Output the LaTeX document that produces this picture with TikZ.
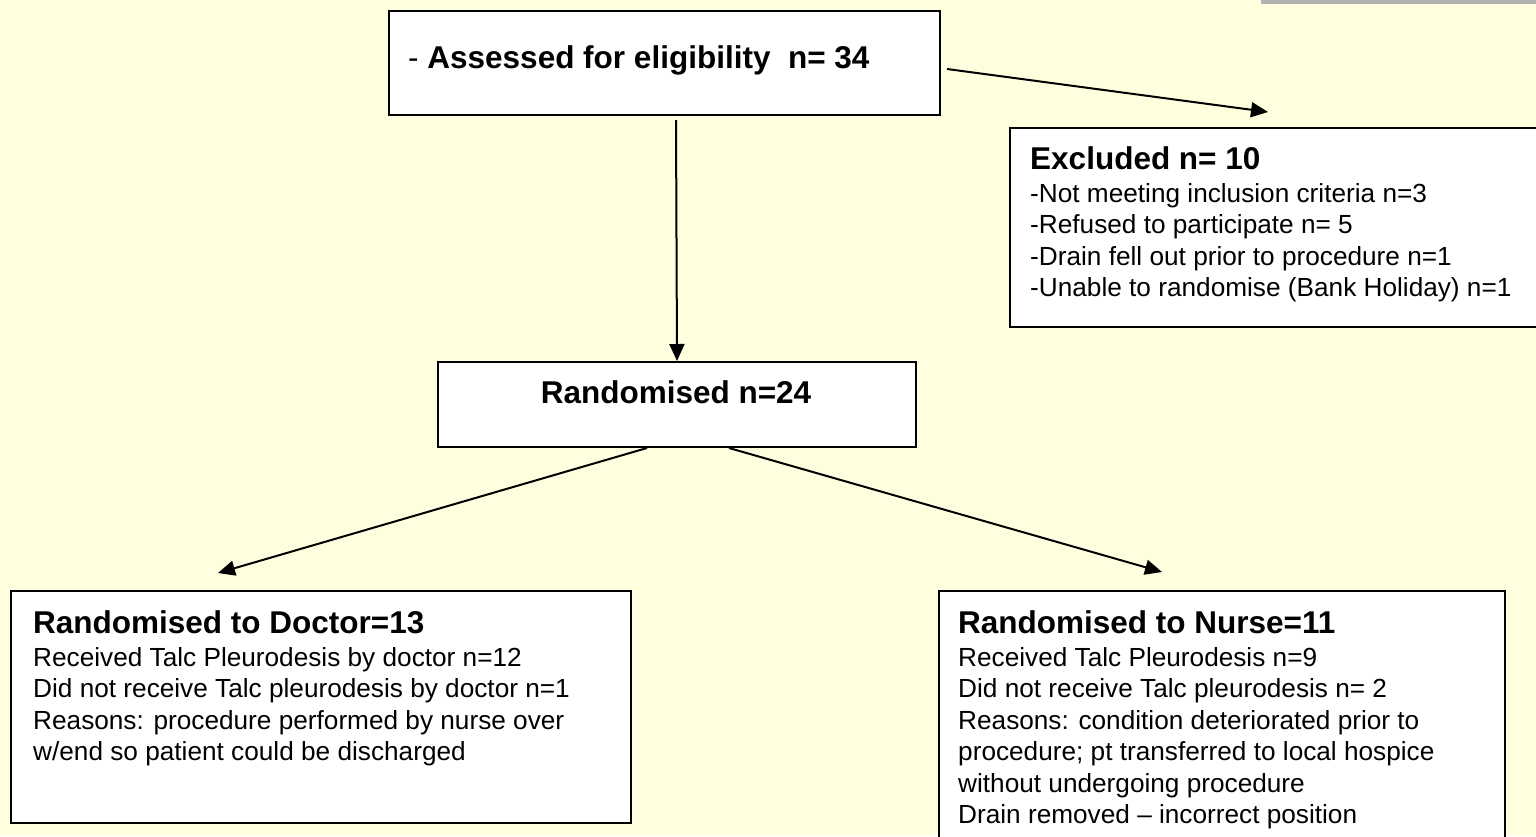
\documentclass[tikz,border=0pt]{standalone}
\usepackage{fontspec}
\setmainfont{Liberation Sans}
\usetikzlibrary{arrows.meta,calc}
\definecolor{bgyellow}{HTML}{FFFFE0}
\definecolor{bargray}{HTML}{B2B2B2}
\begin{document}
\begin{tikzpicture}[x=1pt,y=-1pt,
  boxnode/.style={draw=black, line width=2pt, fill=white, inner sep=0pt, anchor=north west},
  conn/.style={line width=2pt, -{Triangle[length=17pt,width=15pt]}},
  ttl/.style={font=\fontsize{31.5}{36}\selectfont\bfseries, anchor=base west, inner sep=0pt},
  bdy/.style={font=\fontsize{26.2}{31.5}\selectfont, anchor=base west, inner sep=0pt}]
\fill[bgyellow] (0,0) rectangle (1536,836);
\useasboundingbox (0,0) rectangle (1536,836);
\fill[bargray] (1261,0) rectangle (1536,4);
% boxes
\node[boxnode, minimum width=551pt, minimum height=104pt] (top) at (388,10) {};
\node[boxnode, minimum width=600pt, minimum height=199pt] (excl) at (1009,127) {};
\node[boxnode, minimum width=478pt, minimum height=85pt] (rand) at (437,361) {};
\node[boxnode, minimum width=620pt, minimum height=232pt] (doc) at (10,590) {};
\node[boxnode, minimum width=566pt, minimum height=320pt] (nur) at (938,590) {};
% texts
\node[ttl] (toptxt) at (408,68) {{\mdseries -} Assessed for eligibility\ \ n= 34};
\node[ttl, anchor=base] (randtxt) at (676,403) {Randomised n=24};
\node[ttl] (excltxt) at (1030,169) {Excluded n= 10};
\foreach \t [count=\i] in {-Not meeting inclusion criteria n=3,
  -Refused to participate n= 5,
  -Drain fell out prior to procedure n=1,
  -Unable to randomise (Bank Holiday) n=1}
  \node[bdy] (ex\i) at (1030,{202+31.5*(\i-1)}) {\t};
\node[ttl] (doctxt) at (33,633) {Randomised to Doctor=13};
\foreach \t [count=\i] in {Received Talc Pleurodesis by doctor n=12,
  Did not receive Talc pleurodesis by doctor n=1,
  Reasons: procedure performed by nurse over,
  w/end so patient could be discharged}
  \node[bdy] (do\i) at (33,{666+31.5*(\i-1)}) {\t};
\node[ttl] (nurtxt) at (958,633) {Randomised to Nurse=11};
\foreach \t [count=\i] in {Received Talc Pleurodesis n=9,
  Did not receive Talc pleurodesis n= 2,
  Reasons: condition deteriorated prior to,
  procedure; pt transferred to local hospice,
  without undergoing procedure,
  Drain removed – incorrect position}
  \node[bdy] (nu\i) at (958,{666+31.5*(\i-1)}) {\t};
% connectors
\coordinate (e1) at (947,69);
\coordinate (e2) at (1268,112);
\draw[conn] (e1) -- (e2);
\coordinate (v1) at (676,120);
\draw[conn] (v1) -- (rand.north);
\coordinate (l1) at ([xshift=-30pt]rand.south);
\coordinate (r1) at ([xshift=52pt]rand.south);
\coordinate (l2) at (218,573);
\coordinate (r2) at (1162,572);
\draw[conn] (l1) -- (l2);
\draw[conn] (r1) -- (r2);
\end{tikzpicture}
\end{document}
